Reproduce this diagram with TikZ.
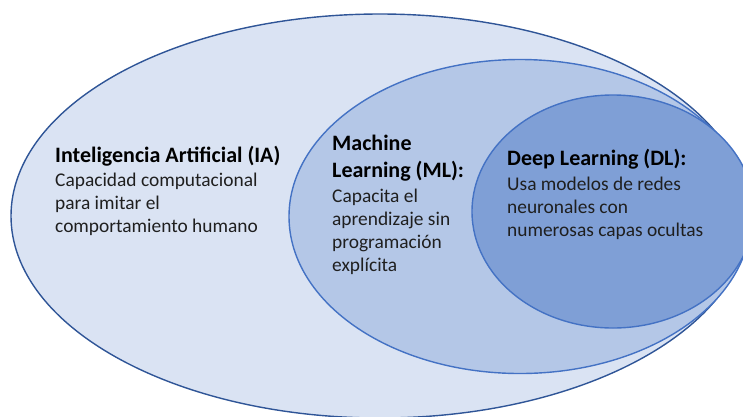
\documentclass[tikz,border=0pt]{standalone}
\usepackage{fontspec}
\setmainfont{Carlito}
\usetikzlibrary{positioning,calc}
\definecolor{iafill}{HTML}{DAE3F3}
\definecolor{mlfill}{HTML}{B4C7E7}
\definecolor{dlfill}{HTML}{7F9FD6}
\definecolor{iaedge}{HTML}{2F5597}
\definecolor{setedge}{HTML}{4472C4}
\newcommand{\setlines}[1]{\begin{tabular}[t]{@{}l@{}}#1\end{tabular}}
\tikzset{%
  setfield/.style={line width=1.4pt},
  head/.style={anchor=base west, inner sep=0pt,
    font=\bfseries\fontsize{22}{27}\selectfont, text=black},
  body/.style={anchor=base west, inner sep=0pt,
    font=\fontsize{19.4}{23}\selectfont, text=black!88}%
}
\begin{document}
\begin{tikzpicture}[x=1pt, y=-1pt]

\useasboundingbox (0,0) rectangle (743,416);
\clip (0,0) rectangle (743,416);

% Nested sets: IA > ML > DL
\draw[setfield, draw=iaedge, fill=iafill] (380,216) ellipse [x radius=369pt, y radius=202pt];
\draw[setfield, draw=setedge, fill=mlfill] (520,216.5) ellipse [x radius=231pt, y radius=157pt];
\draw[setfield, draw=setedge, fill=dlfill] (613,211.5) ellipse [x radius=141pt, y radius=116.5pt];

% Inteligencia Artificial
\node[head] (iahead) at (55,162) {Inteligencia Artificial (IA)};
\node[body] (iatext) at ($(iahead.base west)+(0,24)$)
  {\setlines{Capacidad computacional\\para imitar el\\comportamiento humano}};

% Machine Learning
\node[head] (mlhead) at (332,150) {\setlines{Machine\\Learning (ML):}};
\node[body] (mltext) at (332,202)
  {\setlines{Capacita el\\aprendizaje sin\\programación\\explícita}};

% Deep Learning
\node[head] (dlhead) at (507,165) {Deep Learning (DL):};
\node[body] (dltext) at ($(dlhead.base west)+(0,25)$)
  {\setlines{Usa modelos de redes\\neuronales con\\numerosas capas ocultas}};

\end{tikzpicture}
\end{document}
